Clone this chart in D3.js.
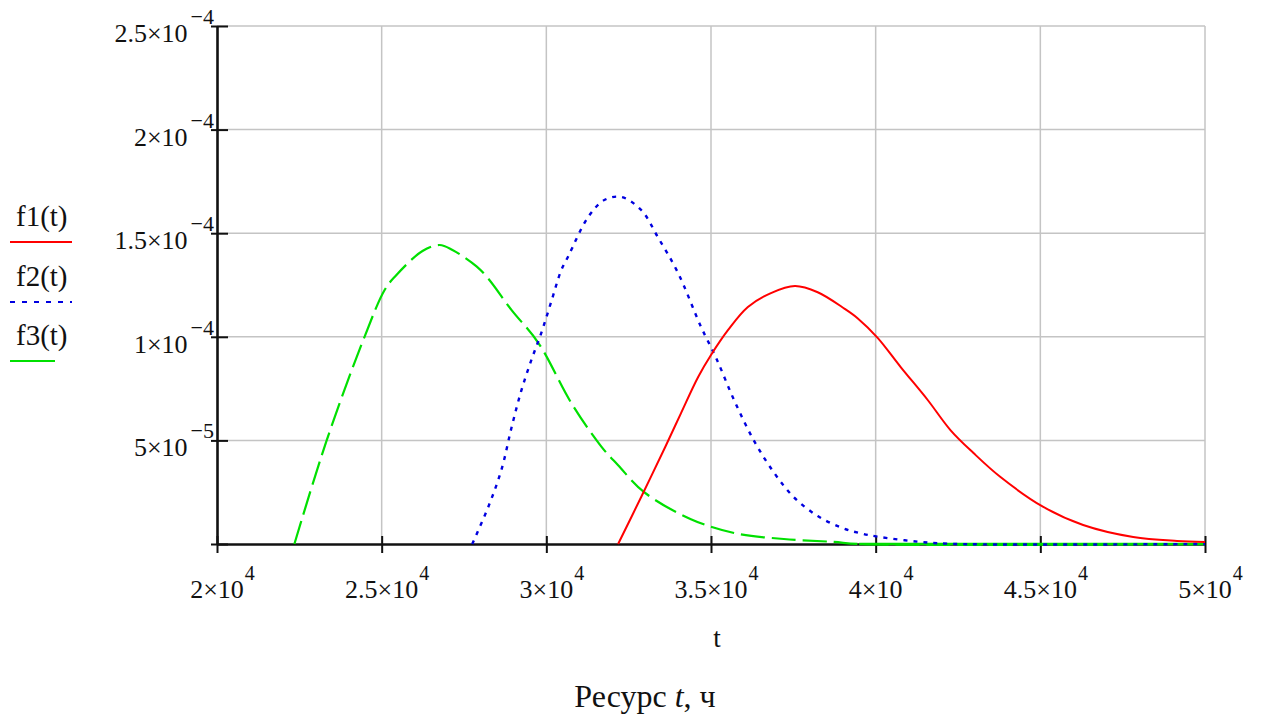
<!DOCTYPE html>
<html><head><meta charset="utf-8">
<script src="https://cdn.jsdelivr.net/npm/d3@7"></script>
<style>
html,body{margin:0;padding:0;background:#fff;}
svg{display:block;}
text{font-family:"Liberation Serif","Times New Roman",serif;fill:#111;}
</style></head>
<body>
<svg id="chart" width="1262" height="717"></svg>
<script>
// ---- data ----
const f1T = [32180, 32880, 33610, 34090, 34610, 35000, 35520, 36120, 36820, 37550, 38240, 39060, 39450, 40060, 40760, 41580, 42270, 42970, 43790, 45090, 46300, 47820, 49150, 50000];
const f1V = [0, 2.27e-5, 4.68e-5, 6.32e-5, 8.06e-5, 9.12e-5, 1.033e-4, 1.144e-4, 1.211e-4, 1.245e-4, 1.215e-4, 1.135e-4, 1.09e-4, 9.95e-5, 8.54e-5, 6.95e-5, 5.5e-5, 4.39e-5, 3.23e-5, 1.79e-5, 9.2e-6, 3.4e-6, 1.5e-6, 1.0e-6];

const f2T = [27750, 28240, 28640, 28940, 29240, 29550, 29850, 30150, 30450, 30670, 31270, 31760, 32270, 32880, 33390, 34000, 34700, 35150, 35700, 36300, 36910, 37520, 38240, 38940, 39500, 40120, 41360, 42500, 50000];
const f2V = [0, 1.8e-5, 3.6e-5, 5.6e-5, 7.4e-5, 8.9e-5, 1.02e-4, 1.17e-4, 1.32e-4, 1.39e-4, 1.578e-4, 1.66e-4, 1.675e-4, 1.612e-4, 1.48e-4, 1.308e-4, 1.047e-4, 9.0e-5, 6.95e-5, 5.0e-5, 3.45e-5, 2.25e-5, 1.35e-5, 8.0e-6, 5.3e-6, 3.4e-6, 1.0e-6, 0, 0];

const f3T = [22350, 23330, 24480, 25090, 25400, 26240, 26760, 27150, 27880, 28240, 28940, 29760, 30760, 31670, 32180, 32970, 34390, 35700, 37210, 38730, 39500, 50000];
const f3V = [0, 5.0e-5, 1.0e-4, 1.226e-4, 1.29e-4, 1.414e-4, 1.443e-4, 1.419e-4, 1.34e-4, 1.28e-4, 1.13e-4, 9.7e-5, 6.8e-5, 4.7e-5, 3.8e-5, 2.5e-5, 1.2e-5, 5.3e-6, 2.4e-6, 1.0e-6, 0, 0];

const seriesNames = ["f1(t)", "f2(t)", "f3(t)"];
const xTicks = [20000, 25000, 30000, 35000, 40000, 45000, 50000];
const xTickBase = ["2×10", "2.5×10", "3×10", "3.5×10", "4×10", "4.5×10", "5×10"];
const xTickExp = ["4", "4", "4", "4", "4", "4", "4"];
const yTicks = [5e-5, 1e-4, 1.5e-4, 2e-4, 2.5e-4];
const yTickBase = ["5×10", "1×10", "1.5×10", "2×10", "2.5×10"];
const yTickExp = ["−5", "−4", "−4", "−4", "−4"];
const xTitle = "t";
const caption = ["Ресурс ", "t", ", ч"];

// ---- drawing ----
const svg = d3.select("#chart");
const x = d3.scaleLinear().domain([20000, 50000]).range([217, 1205]);
const y = d3.scaleLinear().domain([0, 2.5e-4]).range([544, 26]);

// grid
const grid = svg.append("g").attr("stroke", "#c4c4c4").attr("stroke-width", 1.5);
grid.selectAll("line.v").data(xTicks.slice(1)).enter().append("line")
  .attr("x1", d => x(d)).attr("x2", d => x(d)).attr("y1", y(2.5e-4)).attr("y2", y(0));
grid.selectAll("line.h").data(yTicks).enter().append("line")
  .attr("x1", x(20000)).attr("x2", x(50000)).attr("y1", d => y(d)).attr("y2", d => y(d));

// axes
const xAxis = d3.axisBottom(x).tickValues(xTicks).tickSize(0).tickFormat("");
const yAxis = d3.axisLeft(y).tickValues(yTicks.concat([0])).tickSize(0).tickFormat("");
const gx = svg.append("g").attr("transform", `translate(0,${y(0)})`).call(xAxis);
const gy = svg.append("g").attr("transform", `translate(${x(20000)},0)`).call(yAxis);
[gx, gy].forEach(g => g.select(".domain").attr("stroke", "#111").attr("stroke-width", 2.6));
gx.selectAll(".tick").append("line").attr("y1", -8).attr("y2", 9).attr("stroke", "#111").attr("stroke-width", 2);
gy.selectAll(".tick").append("line").attr("x1", -6).attr("x2", 11).attr("stroke", "#111").attr("stroke-width", 2);

// x tick labels
xTicks.forEach((t, i) => {
  const b = svg.append("text").attr("x", x(t)).attr("y", 598).attr("text-anchor", "middle")
    .attr("font-size", 26).text(xTickBase[i]);
  const w = b.node().getComputedTextLength();
  svg.append("text").attr("x", x(t) + w / 2 + 1).attr("y", 580).attr("font-size", 20).text(xTickExp[i]);
});
// y tick labels
yTicks.forEach((v, i) => {
  const e = svg.append("text").attr("x", 214).attr("y", y(v) - 2).attr("text-anchor", "end")
    .attr("font-size", 22).text(yTickExp[i]);
  const w = e.node().getComputedTextLength();
  svg.append("text").attr("x", 214 - w - 3).attr("y", y(v) + 16).attr("text-anchor", "end")
    .attr("font-size", 26).text(yTickBase[i]);
});

// titles
svg.append("text").attr("x", 717).attr("y", 647).attr("text-anchor", "middle").attr("font-size", 27).text(xTitle);
const cap = svg.append("text").attr("x", 645).attr("y", 707).attr("text-anchor", "middle").attr("font-size", 32);
cap.append("tspan").text(caption[0]);
cap.append("tspan").attr("font-style", "italic").text(caption[1]);
cap.append("tspan").text(caption[2]);

// curves
const line = d3.line().x(d => x(d.t)).y(d => y(d.v)).curve(d3.curveCatmullRom.alpha(0.5));
const mk = (T, V) => T.map((t, i) => ({t, v: V[i]}));
const d1 = mk(f1T, f1V), d2 = mk(f2T, f2V), d3s = mk(f3T, f3V);
const colors = ["#ff0000", "#0000e0", "#00e000"];

svg.append("path").attr("d", line(d3s)).attr("fill", "none").attr("stroke", colors[2])
  .attr("stroke-width", 2.2).attr("stroke-dasharray", "24,7");
// green zero tail appears solid along the axis
const tailStart = f3V.findIndex((v, i) => v === 0 && i > 0);
svg.append("path").attr("d", d3.line().x(d => x(d.t)).y(d => y(d.v))(d3s.slice(tailStart)))
  .attr("fill", "none").attr("stroke", colors[2]).attr("stroke-width", 2.6);
svg.append("path").attr("d", line(d2)).attr("fill", "none").attr("stroke", colors[1])
  .attr("stroke-width", 2.4).attr("stroke-dasharray", "4,6");
svg.append("path").attr("d", line(d1)).attr("fill", "none").attr("stroke", colors[0])
  .attr("stroke-width", 2);

// legend
const legY = [226, 286, 345];
seriesNames.forEach((n, i) => {
  svg.append("text").attr("x", 16).attr("y", legY[i]).attr("font-size", 29).text(n);
  svg.append("line").attr("x1", 10).attr("x2", i === 2 ? 55 : 72)
    .attr("y1", legY[i] + 16).attr("y2", legY[i] + 16)
    .attr("stroke", colors[i]).attr("stroke-width", 2.2)
    .attr("stroke-dasharray", i === 1 ? "5,7" : null);
});
</script>
</body></html>
